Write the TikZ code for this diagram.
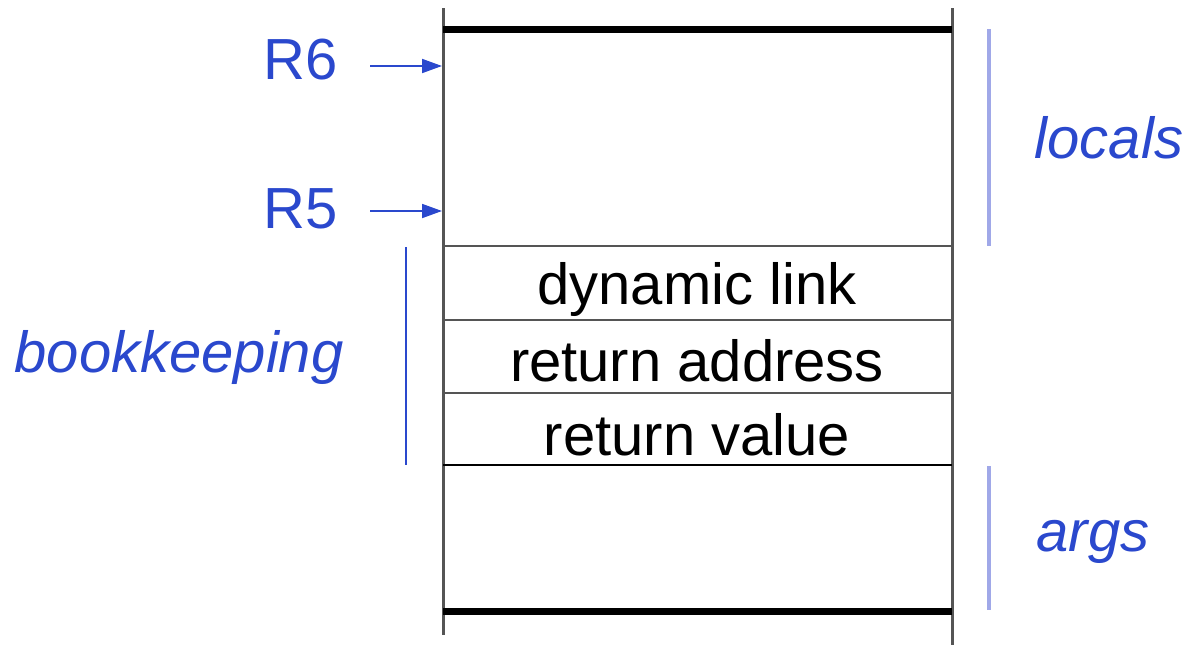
\documentclass[tikz,border=0pt]{standalone}
\usepackage{fontspec}
\setmainfont{Liberation Sans}
\usetikzlibrary{arrows.meta}
\definecolor{lblblue}{RGB}{42,72,205}
\definecolor{barblue}{RGB}{160,168,232}
\definecolor{linegray}{RGB}{85,85,85}
\tikzset{
  celltext/.style={font=\fontsize{58}{60}\selectfont, text=black, inner sep=0pt},
  lbl/.style={font=\fontsize{58}{60}\selectfont, text=lblblue, inner sep=0pt},
  ilbl/.style={font=\fontsize{58}{60}\selectfont\itshape, text=lblblue, inner sep=0pt},
  wall/.style={draw=linegray, line width=3pt},
  sep/.style={draw=linegray, line width=2pt},
  thick bar/.style={draw=black, line width=7pt},
  regarrow/.style={draw=lblblue, line width=1.8pt, -{Triangle[length=20pt,width=14pt]}},
  brace line/.style={draw=barblue, line width=3.5pt},
  brace dark/.style={draw=lblblue, line width=2pt},
}
\begin{document}
\begin{tikzpicture}[x=1pt,y=-1pt]
\useasboundingbox (0,0) rectangle (1193,645);
% walls
\coordinate (lt) at (443,8);
\coordinate (lb) at (443,635);
\coordinate (rt) at (952,8);
\coordinate (rb) at (952,645);
\draw[wall] (lt) -- (lb);
\draw[wall] (rt) -- (rb);
% thick bars
\draw[thick bar] (443,29) -- (952,29);
\draw[thick bar] (443,611) -- (952,611);
% separators
\draw[sep] (443,246) -- (952,246);
\draw[sep] (443,320) -- (952,320);
\draw[sep] (443,393) -- (952,393);
\draw[sep, draw=black] (443,465) -- (952,465);
% cell texts
\node[celltext] (dl) at (697,289) {dynamic link};
\node[celltext] (ra) at (697,361) {return address};
\node[celltext] (rv) at (697,435) {return value};
% register labels
\node[lbl] (r6) at (301,60) {R6};
\node[lbl] (r5) at (301,209) {R5};
\coordinate (r6t) at (442,66);
\coordinate (r5t) at (442,211);
\draw[regarrow] (370,66) -- (r6t);
\draw[regarrow] (370,211) -- (r5t);
% brackets
\draw[brace line] (989,29) -- (989,246);
\draw[brace line] (989,466) -- (989,610);
\draw[brace dark] (406,247) -- (406,465);
% region labels
\node[ilbl] (loc) at (1109,138) {locals};
\node[ilbl] (arg) at (1093,542) {args};
\node[ilbl] (bk) at (179,357) {bookkeeping};
\end{tikzpicture}
\end{document}
